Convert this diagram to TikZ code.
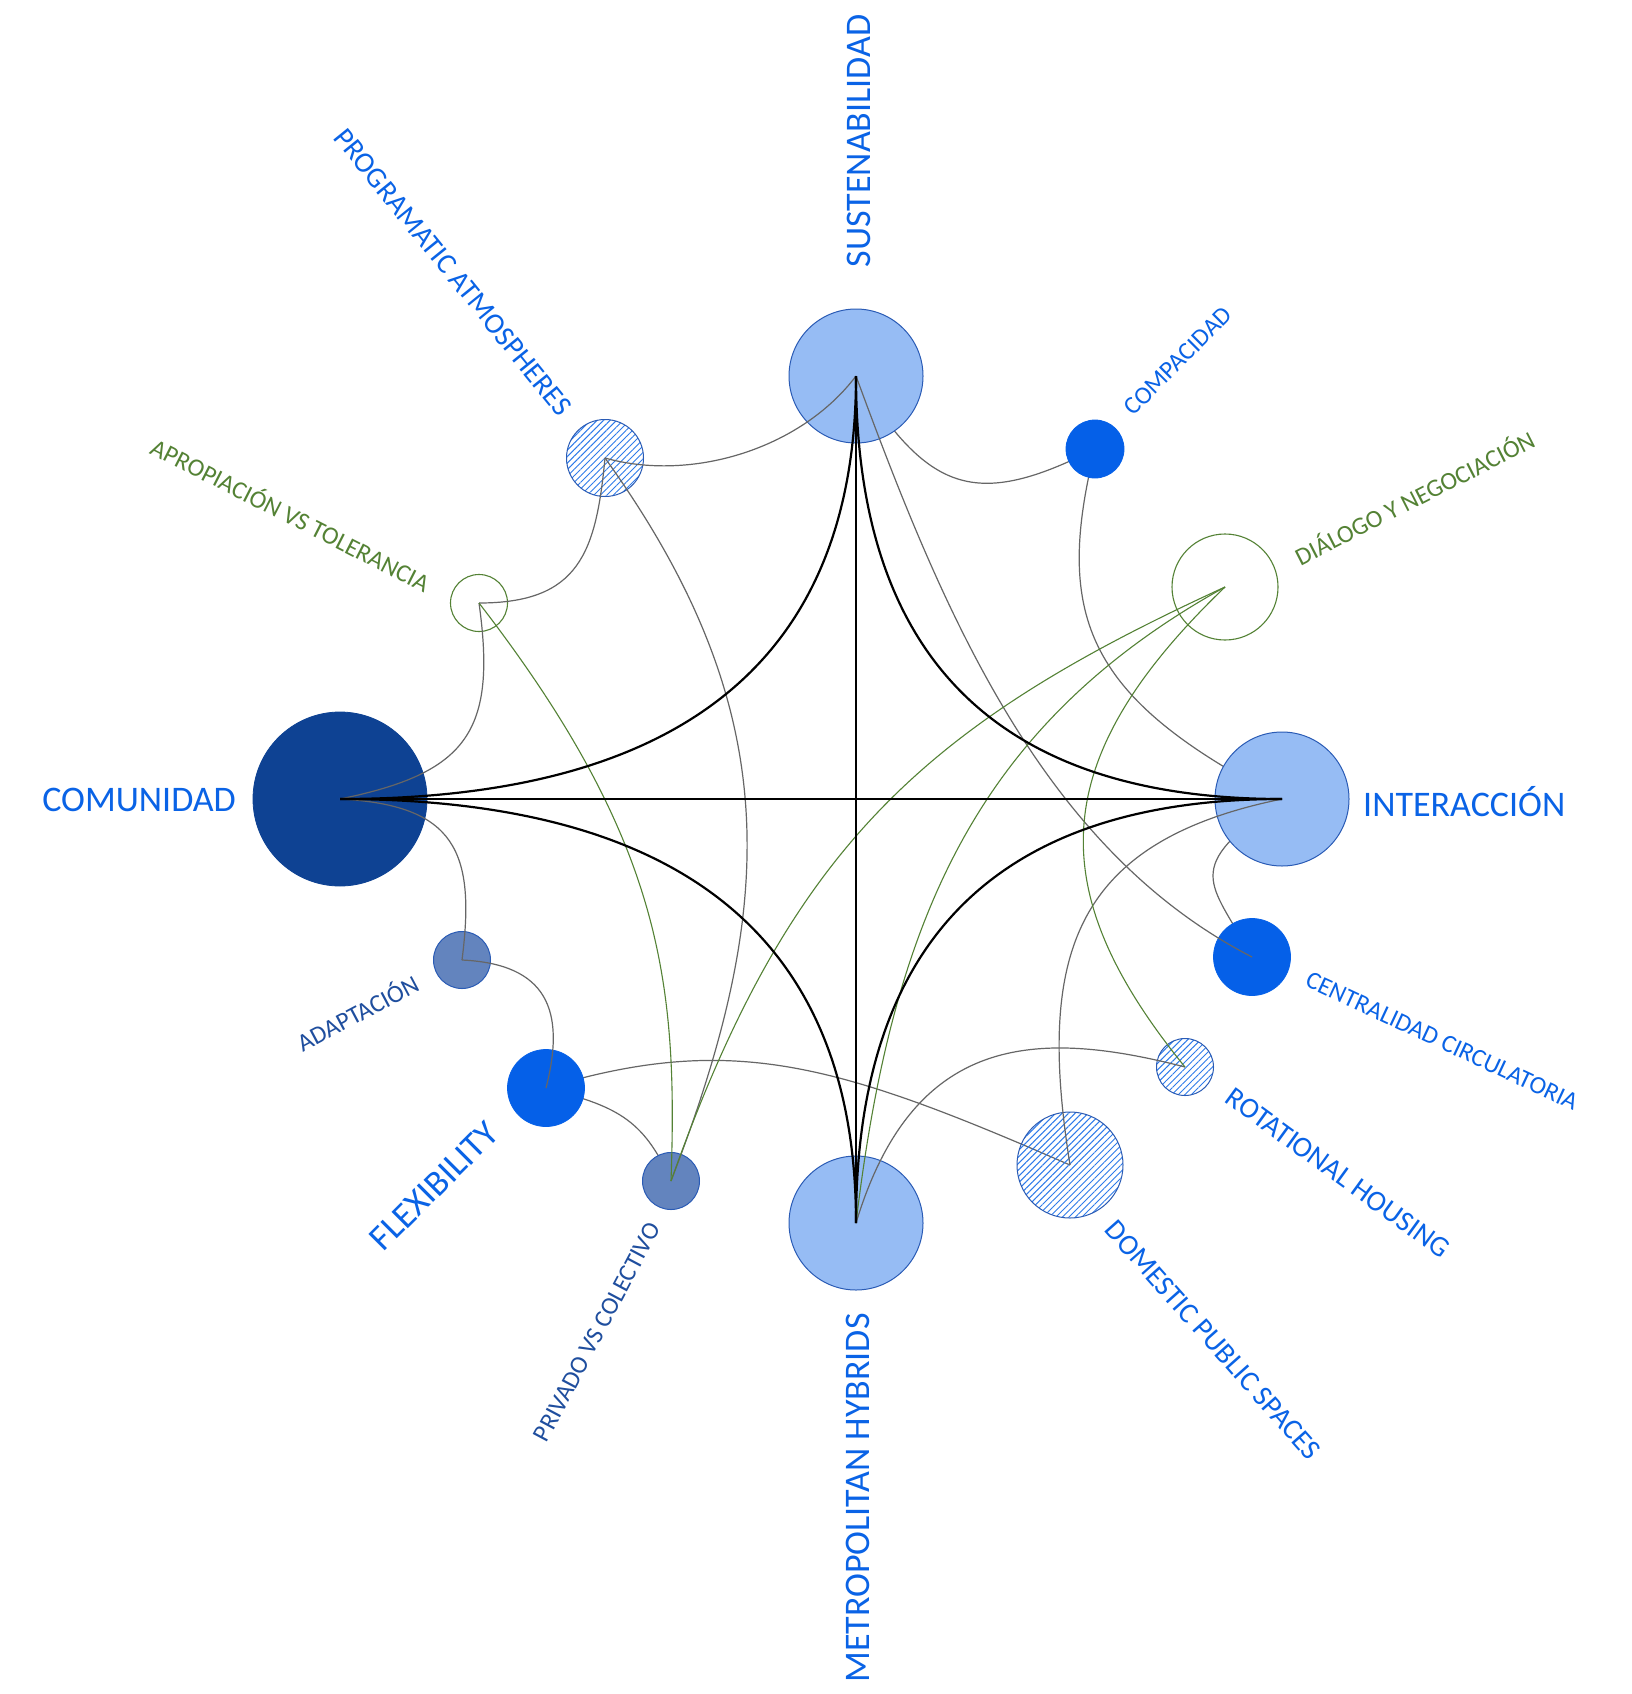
\documentclass[tikz,border=0pt]{standalone}
\usepackage{fontspec}
\setmainfont{Carlito}
\usetikzlibrary{patterns.meta}
\definecolor{blu}{HTML}{0A63E6}
\definecolor{dblu}{HTML}{1F4E9E}
\definecolor{grn}{HTML}{548235}
\definecolor{lgrey}{HTML}{666666}
\definecolor{lightfill}{HTML}{96BCF4}
\definecolor{outl}{HTML}{2A5BB5}
\definecolor{navy}{HTML}{0E4293}
\definecolor{solid}{HTML}{0560E8}
\definecolor{midb}{HTML}{6384BE}
\definecolor{hatchc}{HTML}{2E7BEA}
\newcommand\mkfA{\fontsize{36}{40}\selectfont}
\newcommand\mkfB{\fontsize{29}{33}\selectfont}
\newcommand\mkfC{\fontsize{25}{29}\selectfont}
\tikzset{
  circ/.style={circle, inner sep=0pt, minimum size=#1},
  lightc/.style={fill=lightfill, draw=outl, line width=1pt},
  navyc/.style={fill=navy, draw=navy, line width=0.8pt},
  solidc/.style={fill=solid, draw=solid, line width=0.8pt},
  midc/.style={fill=midb, draw=outl, line width=1pt},
  hatchcirc/.style={pattern={Lines[angle=45,distance=4.6pt,line width=1pt]}, pattern color=hatchc, draw=outl, line width=1pt},
  greenc/.style={draw=grn, line width=1.1pt},
  gline/.style={draw=lgrey, line width=1.2pt},
  grline/.style={draw=grn, line width=1.1pt},
  starl/.style={draw=black, line width=2.2pt},
  labA/.style={inner sep=0pt, font=\mkfA, text height=23.2pt, text depth=0pt},
  labB/.style={inner sep=0pt, font=\mkfB, text height=18.7pt, text depth=0pt},
  labC/.style={inner sep=0pt, font=\mkfC, text height=16.1pt, text depth=0pt}
}
\begin{document}
\begin{tikzpicture}[x=1pt,y=-1pt]
\useasboundingbox (0,0) rectangle (1632,1694);
\fill[white] (0,0) rectangle (1632,1694);
% coordinates of centres
\coordinate (pS) at (856,376);
\coordinate (pI) at (1282,799);
\coordinate (pM) at (856,1223);
\coordinate (pC) at (340,799);
\coordinate (pPA) at (605,458);
\coordinate (pAT) at (479,603);
\coordinate (pCP) at (1095,449);
\coordinate (pDN) at (1225,587);
\coordinate (pCC) at (1252,957);
\coordinate (pRH) at (1185,1067);
\coordinate (pDP) at (1070,1165);
\coordinate (pPC) at (671,1181);
\coordinate (pFX) at (546,1088);
\coordinate (pAD) at (462,960);
% connectors hidden behind solid circles
\draw[gline] (pS) .. controls (928,492) and (975,510) .. (pCP);
\draw[gline] (pCP) .. controls (1053,619) and (1088,699) .. (pI);
\draw[gline] (pI) .. controls (1180,870) and (1210,880) .. (pCC);
\draw[gline] (pFX) .. controls (732,1032) and (836,1063) .. (pDP);
\draw[gline] (pFX) .. controls (614,1106) and (643,1117) .. (pPC);
% circles
\node[circ=134pt, lightc] (S) at (pS) {};
\node[circ=134pt, lightc] (I) at (pI) {};
\node[circ=134pt, lightc] (M) at (pM) {};
\node[circ=174pt, navyc] (C) at (pC) {};
\node[circ=77pt, hatchcirc] (PA) at (pPA) {};
\node[circ=57pt, greenc] (AT) at (pAT) {};
\node[circ=58pt, solidc] (CP) at (pCP) {};
\node[circ=106pt, greenc] (DN) at (pDN) {};
\node[circ=77pt, solidc] (CC) at (pCC) {};
\node[circ=57pt, hatchcirc] (RH) at (pRH) {};
\node[circ=106pt, hatchcirc] (DP) at (pDP) {};
\node[circ=57pt, midc] (PC) at (pPC) {};
\node[circ=77pt, solidc] (FX) at (pFX) {};
\node[circ=57pt, midc] (AD) at (pAD) {};
% grey connectors
\draw[gline] (PA.center) .. controls (690,482) and (800,450) .. (S.center);
\draw[gline] (S.center) .. controls (943,613) and (1042,849) .. (CC.center);
\draw[gline] (I.center) .. controls (1071,842) and (1037,957) .. (DP.center);
\draw[gline] (M.center) .. controls (913,1035) and (1034,1028) .. (RH.center);
\draw[gline] (AD.center) .. controls (547,964) and (566,1010) .. (FX.center);
\draw[gline] (C.center) .. controls (455,805) and (476,851) .. (AD.center);
\draw[gline] (C.center) .. controls (467,773) and (497,732) .. (AT.center);
\draw[gline] (AT.center) .. controls (579,603) and (596,553) .. (PA.center);
\draw[gline] (PA.center) .. controls (786,710) and (778,904) .. (PC.center);
% green connectors
\draw[grline] (AT.center) .. controls (662,840) and (678,981) .. (PC.center);
\draw[grline] (DN.center) .. controls (924,725) and (790,846) .. (PC.center);
\draw[grline] (DN.center) .. controls (974,726) and (892,923) .. (M.center);
\draw[grline] (DN.center) .. controls (1046,759) and (1041,890) .. (RH.center);
% star
\draw[starl] (C.center) -- (I.center);
\draw[starl] (S.center) -- (M.center);
\draw[starl] (C.center) .. controls (684,799) and (856,658) .. (S.center);
\draw[starl] (S.center) .. controls (856,658) and (998,799) .. (I.center);
\draw[starl] (I.center) .. controls (998,799) and (856,940) .. (M.center);
\draw[starl] (M.center) .. controls (856,940) and (684,799) .. (C.center);
% labels
\node[labA, text=blu, anchor=east] (tC) at (236,800) {COMUNIDAD};
\node[labA, text=blu, anchor=west] (tI) at (1363,805) {INTERACCIÓN};
\node[labA, text=blu, rotate=90] (tS) at (858.5,141) {SUSTENABILIDAD};
\node[labA, text=blu, rotate=90] (tM) at (858,1498) {METROPOLITAN HYBRIDS};
\node[labA, text=blu, rotate=45] (tF) at (434,1186) {FLEXIBILITY};
\node[labB, text=blu, rotate=-51] (tPA) at (453,272) {PROGRAMATIC ATMOSPHERES};
\node[labB, text=blu, rotate=-36] (tRH) at (1338,1173) {ROTATIONAL HOUSING};
\node[labB, text=blu, rotate=-48.4] (tDP) at (1213,1340) {DOMESTIC PUBLIC SPACES};
\node[labC, text=blu, rotate=-25] (tCC) at (1442,1041) {CENTRALIDAD CIRCULATORIA};
\node[labC, text=blu, rotate=45] (tCP) at (1178,361) {COMPACIDAD};
\node[labC, text=grn, rotate=27] (tDN) at (1415,499) {DIÁLOGO Y NEGOCIACIÓN};
\node[labC, text=grn, rotate=-27] (tAT) at (290,516) {APROPIACIÓN VS TOLERANCIA};
\node[labC, text=dblu, rotate=28] (tAD) at (358,1014) {ADAPTACIÓN};
\node[labC, text=dblu, rotate=62] (tPC) at (597,1332) {PRIVADO VS COLECTIVO};
\end{tikzpicture}
\end{document}
